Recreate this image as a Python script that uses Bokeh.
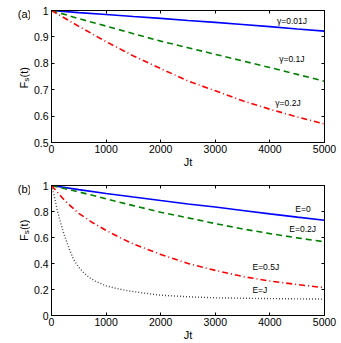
from bokeh.plotting import figure
from bokeh.layouts import column, row
from bokeh.models import Range1d, LinearAxis, FixedTicker, Label
from bokeh.core.properties import value
from bokeh.embed import file_html
from bokeh.resources import INLINE

# ---------------- data ----------------
x_ticks = [0, 1000, 2000, 3000, 4000, 5000]
x_tick_labels = ["0", "1000", "2000", "3000", "4000", "5000"]
ya_ticks = [0.5, 0.6, 0.7, 0.8, 0.9, 1.0]
ya_tick_labels = ["0.5", "0.6", "0.7", "0.8", "0.9", "1"]
yb_ticks = [0.0, 0.2, 0.4, 0.6, 0.8, 1.0]
yb_tick_labels = ["0", "0.2", "0.4", "0.6", "0.8", "1"]

# panel (a)
jt_a = [0, 500, 1000, 1500, 2000, 2500, 3000, 3500, 4000, 4500, 5000]
fs_g001 = [1, 0.992, 0.985, 0.977, 0.970, 0.962, 0.955, 0.947, 0.939, 0.930, 0.922]
fs_g01 = [1, 0.969, 0.941, 0.912, 0.884, 0.859, 0.834, 0.809, 0.784, 0.758, 0.732]
fs_g02 = [1, 0.940, 0.882, 0.828, 0.780, 0.733, 0.696, 0.658, 0.626, 0.597, 0.570]
labels_a = ["γ=0.01J", "γ=0.1J", "γ=0.2J"]
label_a_x = [4130, 4170, 4100]
label_a_y = [0.962, 0.817, 0.650]

# panel (b)
jt_b = [0, 500, 1000, 1500, 2000, 2500, 3000, 3500, 4000, 4500, 5000]
fs_E0 = [1, 0.968, 0.939, 0.911, 0.884, 0.858, 0.834, 0.808, 0.782, 0.757, 0.733]
fs_E02 = [1, 0.951, 0.897, 0.845, 0.794, 0.751, 0.707, 0.666, 0.630, 0.597, 0.567]
jt_b_red = [0, 250, 500, 750, 1000, 1250, 1500, 1750, 2000, 2500, 3000, 3500, 4000, 4500, 5000]
fs_E05 = [1, 0.88, 0.785, 0.715, 0.655, 0.60, 0.55, 0.51, 0.47, 0.40, 0.347, 0.30, 0.265, 0.238, 0.214]
jt_b_gray = [0, 50, 100, 150, 200, 250, 300, 400, 500, 600, 700, 800, 1000, 1200, 1400,
             1700, 2000, 2500, 3000, 4000, 5000]
fs_EJ = [1, 0.92, 0.82, 0.74, 0.665, 0.60, 0.54, 0.435, 0.37, 0.325, 0.29, 0.265, 0.228, 0.207,
         0.19, 0.172, 0.156, 0.144, 0.136, 0.130, 0.126]
labels_b = ["E=0", "E=0.2J", "E=0.5J", "E=J"]
label_b_x = [4465, 4355, 3680, 3680]
label_b_y = [0.817, 0.664, 0.374, 0.198]

panel_tags = ["(a)", "(b)"]

# ---------------- layout constants (pixels) ----------------
FONT = "Liberation Sans"
TICK_FS = "10.5px"
TOTAL_H = 343
LAB_W = 30                    # left strip holding the y labels and panel tags
MAIN_W = 311
ML, FRAME_W = 19, 275
MR = MAIN_W - ML - FRAME_W
H1, T1, B1 = 170, 10, 27      # panel (a): frame 133 px high
H2, T2, B2 = 173, 15, 26      # panel (b): frame 132 px high


def style_axis(ax, ticks, labels=None):
    ax.ticker = FixedTicker(ticks=ticks)
    ax.axis_line_color = "black"
    ax.axis_line_width = 1
    ax.major_tick_line_color = "black"
    ax.major_tick_in = 3
    ax.major_tick_out = 0
    ax.minor_tick_line_color = None
    ax.major_label_text_font = FONT
    if labels is None:
        ax.major_label_text_color = None
        ax.major_label_text_font_size = "1px"
        ax.major_label_standoff = 0
    else:
        ax.major_label_text_color = "black"
        ax.major_label_text_font_size = TICK_FS
        ax.major_label_overrides = {t: s for t, s in zip(ticks, labels)}
        ax.major_label_standoff = 3


def make_fig(height, yr, yticks, ylabels, top, bottom):
    p = figure(width=MAIN_W, height=height, x_range=Range1d(0, 5000), y_range=Range1d(*yr),
               output_backend="svg", toolbar_location=None,
               min_border_left=ML, min_border_right=MR,
               min_border_top=top, min_border_bottom=bottom)
    p.xgrid.visible = False
    p.ygrid.visible = False
    p.outline_line_color = "black"
    p.outline_line_width = 1
    style_axis(p.xaxis[0], x_ticks, x_tick_labels)
    p.xaxis[0].major_label_standoff = 2
    p.xaxis[0].axis_label = "Jt"
    p.xaxis[0].axis_label_text_font = FONT
    p.xaxis[0].axis_label_text_font_size = "11px"
    p.xaxis[0].axis_label_text_font_style = "normal"
    p.xaxis[0].axis_label_text_color = "black"
    p.xaxis[0].axis_label_standoff = 0
    style_axis(p.yaxis[0], yticks, ylabels)
    ra = LinearAxis()
    style_axis(ra, yticks)
    p.add_layout(ra, "right")
    ta = LinearAxis()
    style_axis(ta, x_ticks)
    p.add_layout(ta, "above")
    return p


# ---------------- panel (a) ----------------
p1 = make_fig(H1, (0.5, 1.0), ya_ticks, ya_tick_labels, T1, B1)
p1.line(jt_a, fs_g001, line_color="#0000ff", line_width=1.6)
p1.line(jt_a, fs_g01, line_color="#008000", line_width=1.6, line_dash="6 4")
p1.line(jt_a, fs_g02, line_color="#ff0000", line_width=1.6, line_dash="6 3 1 3")
for t, x, y in zip(labels_a, label_a_x, label_a_y):
    p1.add_layout(Label(x=x, y=y, text=t, text_font=FONT, text_font_size="8.5px",
                        text_align="left", text_baseline="middle", text_color="black"))

# ---------------- panel (b) ----------------
p2 = make_fig(H2, (0.0, 1.0), yb_ticks, yb_tick_labels, T2, B2)
p2.line(jt_b, fs_E0, line_color="#0000ff", line_width=1.6)
p2.line(jt_b, fs_E02, line_color="#008000", line_width=1.6, line_dash="6 4")
p2.line(jt_b_red, fs_E05, line_color="#ff0000", line_width=1.6, line_dash="6 3 1 3")
p2.line(jt_b_gray, fs_EJ, line_color="#444444", line_width=1.4, line_dash="1 2")
for t, x, y in zip(labels_b, label_b_x, label_b_y):
    p2.add_layout(Label(x=x, y=y, text=t, text_font=FONT, text_font_size="8.5px",
                        text_align="left", text_baseline="middle", text_color="black"))

# ---------------- left strip: panel tags and rotated y labels ----------------
lab = figure(width=LAB_W, height=TOTAL_H, x_range=Range1d(0, LAB_W),
             y_range=Range1d(0, TOTAL_H), output_backend="svg", toolbar_location=None,
             x_axis_location=None, y_axis_location=None,
             min_border_left=0, min_border_right=0, min_border_top=0, min_border_bottom=0)
lab.outline_line_color = None
lab.xgrid.visible = False
lab.ygrid.visible = False


def fy(page_y):
    return TOTAL_H - page_y


frame_a_top = T1
frame_a_bot = H1 - B1
frame_b_top = H1 + T2
frame_b_bot = H1 + H2 - B2

tag_y = [frame_a_top + 3.0, frame_b_top + 3.0]
lab.text(x=[24, 24], y=[fy(v) for v in tag_y], text=panel_tags,
         text_font=value(FONT), text_font_size=value("11px"), text_color="black",
         text_align="center", text_baseline="middle")

ylab_centers = [(frame_a_top + frame_a_bot) / 2 + 0.7,
                frame_b_top + 0.339 * (frame_b_bot - frame_b_top)]
ANG = 1.5707963
for c in ylab_centers:
    yF = c + 10.7
    ys = yF - 6.7
    yt = ys - 4.2
    lab.text(x=[23.5, 23.5], y=[fy(yF), fy(yt)], text=["F", "(t)"], angle=ANG,
             text_font=value(FONT), text_font_size=value("11px"), text_color="black",
             text_align="left", text_baseline="alphabetic")
    lab.text(x=[26.2], y=[fy(ys)], text=["s"], angle=ANG,
             text_font=value(FONT), text_font_size=value("8px"), text_color="black",
             text_align="left", text_baseline="alphabetic")

layout = row(lab, column(p1, p2))

open("out.html", "w").write(file_html(layout, INLINE))
